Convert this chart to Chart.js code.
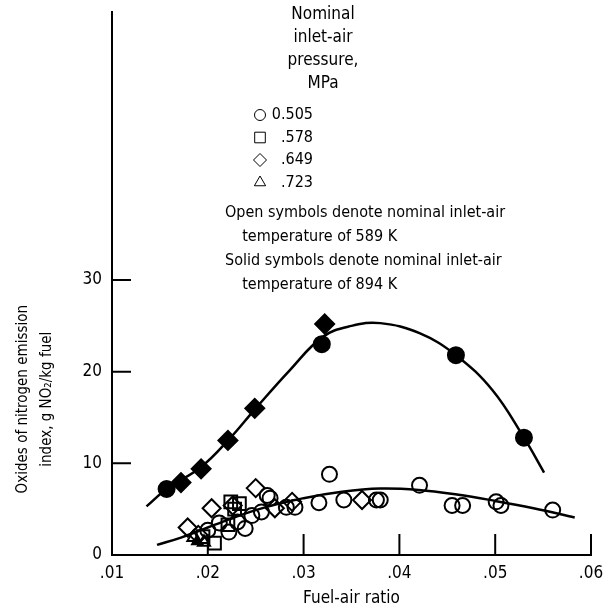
<!DOCTYPE html>
<html>
<head>
<meta charset="utf-8">
<script src="https://cdn.jsdelivr.net/npm/chart.js@4.4.0/dist/chart.umd.min.js"></script>
<style>
  html, body { margin: 0; padding: 0; background: #fff; }
</style>
</head>
<body>
<canvas id="noxChart" width="610" height="610"></canvas>
<script>
const FONT = '"Liberation Sans Narrow", "DejaVu Sans Condensed", "Arial Narrow", sans-serif';

// open symbols: inlet-air temperature 589 K
const openCircles = [
  [0.0200, 2.7], [0.0212, 3.5], [0.0222, 2.5], [0.0231, 3.6], [0.0239, 2.9],
  [0.0246, 4.3], [0.0256, 4.7], [0.0262, 6.5], [0.0265, 6.2], [0.0282, 5.2],
  [0.0291, 5.2], [0.0316, 5.7], [0.0327, 8.8], [0.0342, 6.0], [0.0376, 6.0],
  [0.0380, 6.0], [0.0421, 7.6], [0.0455, 5.4], [0.0466, 5.4], [0.0501, 5.8],
  [0.0506, 5.4], [0.0560, 4.9]
];
const openSquares = [[0.0207, 1.3], [0.0195, 2.0], [0.0224, 5.8], [0.0228, 5.0], [0.0233, 5.6], [0.0221, 3.3]];
const openDiamonds = [[0.0179, 3.0], [0.0190, 2.2], [0.0204, 5.1], [0.0226, 5.4], [0.0250, 7.3], [0.0270, 5.1], [0.0288, 5.8], [0.0361, 6.0]];
const openTriangles = [[0.0185, 1.9], [0.0196, 1.4]];

// solid symbols: inlet-air temperature 894 K
const solidCircles = [[0.0157, 7.2], [0.0319, 23.0], [0.0459, 21.8], [0.0530, 12.8]];
const solidDiamonds = [[0.0172, 7.9], [0.0193, 9.4], [0.0221, 12.5], [0.0249, 16.0], [0.0322, 25.2]];
const solidTriangles = [[0.0189, 1.5]];

// faired curves
const curve894 = [
  [0.0136, 5.3], [0.0157, 7.2], [0.0193, 9.6], [0.0222, 12.6], [0.0250, 16.0],
  [0.0285, 20.1], [0.0320, 23.8], [0.0350, 25.0], [0.0380, 25.3], [0.0421, 24.2],
  [0.0459, 21.8], [0.0497, 18.0], [0.0530, 12.8], [0.0551, 9.0]
];
const curve589 = [
  [0.0147, 1.1], [0.0172, 1.9], [0.0200, 3.0], [0.0250, 4.9], [0.0300, 6.2],
  [0.0340, 6.9], [0.0380, 7.25], [0.0420, 7.1], [0.0460, 6.6], [0.0500, 5.9],
  [0.0540, 5.1], [0.0583, 4.1]
];

const xTicks = [0.01, 0.02, 0.03, 0.04, 0.05, 0.06];
const xTickLabels = ['.01', '.02', '.03', '.04', '.05', '.06'];
const yTicks = [0, 10, 20, 30];

const legendTitle = ['Nominal', 'inlet-air', 'pressure,', 'MPa'];
const pressures = ['0.505', '.578', '.649', '.723'];
const pressureSymbols = ['circle', 'rect', 'rectRot', 'triangle'];
const notes = [
  'Open symbols denote nominal inlet-air',
  '  temperature of 589 K',
  'Solid symbols denote nominal inlet-air',
  '  temperature of 894 K'
];
const yTitle = ['Oxides of nitrogen emission', 'index, g NO\u2082/kg fuel'];

const toXY = arr => arr.map(p => ({ x: p[0], y: p[1] }));

function pts(data, style, radius, solid) {
  return {
    data: toXY(data),
    showLine: false,
    pointStyle: style,
    pointRadius: radius,
    pointHoverRadius: radius,
    pointBorderWidth: 2,
    pointBorderColor: '#000',
    pointBackgroundColor: solid ? '#000' : 'rgba(0,0,0,0)'
  };
}

function curve(data) {
  return {
    data: toXY(data),
    showLine: true,
    borderColor: '#000',
    borderWidth: 2.5,
    pointRadius: 0,
    tension: 0.4,
    fill: false
  };
}

const inwardTicks = {
  id: 'inwardTicks',
  afterDatasetsDraw(chart) {
    const { ctx, scales: { x, y } } = chart;
    ctx.save();
    ctx.strokeStyle = '#000';
    ctx.lineWidth = 2;
    ctx.beginPath();
    xTicks.slice(1).forEach(v => {
      const px = x.getPixelForValue(v);
      ctx.moveTo(px, y.bottom);
      ctx.lineTo(px, y.bottom - 21);
    });
    yTicks.slice(1).forEach(v => {
      const py = y.getPixelForValue(v);
      ctx.moveTo(x.left, py);
      ctx.lineTo(x.left + 19, py);
    });
    ctx.stroke();
    ctx.restore();
  }
};

const annotations = {
  id: 'annotations',
  afterDraw(chart) {
    const { ctx, scales: { y } } = chart;
    ctx.save();
    ctx.strokeStyle = '#000';
    ctx.textBaseline = 'middle';

    // legend heading
    ctx.fillStyle = '#000';
    ctx.font = '17px ' + FONT;
    ctx.textAlign = 'center';
    legendTitle.forEach((t, i) => ctx.fillText(t, 323, 15 + i * 23));

    // symbol rows (open symbols)
    ctx.font = '16px ' + FONT;
    pressures.forEach((p, i) => {
      const rowY = 115 + i * 22.5;
      ctx.fillStyle = 'rgba(0,0,0,0)';
      Chart.helpers.drawPoint(ctx, {
        pointStyle: pressureSymbols[i],
        radius: pressureSymbols[i] === 'rect' ? 7.5 : (pressureSymbols[i] === 'circle' ? 5.5 : 6.5),
        borderWidth: 2,
        rotation: 0
      }, 260, rowY);
      ctx.fillStyle = '#000';
      ctx.textAlign = 'right';
      ctx.fillText(p, 313, rowY);
    });

    // temperature notes
    ctx.textAlign = 'left';
    notes.forEach((t, i) => ctx.fillText(t, i % 2 ? 233 : 225, 213 + i * 24));

    // y-axis title, two rotated lines
    ctx.font = '15px ' + FONT;
    const cy = y.getPixelForValue(17);
    ctx.translate(35, cy);
    ctx.rotate(-Math.PI / 2);
    ctx.textAlign = 'center';
    ctx.fillText(yTitle[0], 0, -12);
    ctx.fillText(yTitle[1], 0, 12);
    ctx.restore();
  }
};

const ctx = document.getElementById('noxChart').getContext('2d');

const noxChart = new Chart(ctx, {
  type: 'scatter',
  data: {
    datasets: [
      pts(solidCircles, 'circle', 8, true),
      pts(solidDiamonds, 'rectRot', 9.5, true),
      pts(solidTriangles, 'triangle', 6, true),
      pts(openCircles, 'circle', 7.5, false),
      pts(openSquares, 'rect', 9, false),
      pts(openDiamonds, 'rectRot', 9, false),
      pts(openTriangles, 'triangle', 7, false),
      curve(curve894),
      curve(curve589)
    ]
  },
  options: {
    responsive: false,
    animation: false,
    layout: { padding: { left: 0, top: 0, right: 19, bottom: 0 } },
    plugins: {
      legend: { display: false },
      tooltip: { enabled: false }
    },
    scales: {
      x: {
        type: 'linear',
        min: 0.01,
        max: 0.06,
        afterFit: s => { s.height = 55; s.paddingLeft = 0; s.paddingRight = 0; },
        afterBuildTicks: s => { s.ticks = xTicks.map(v => ({ value: v })); },
        grid: { display: false, drawTicks: false, tickLength: 0 },
        border: { display: true, color: '#000', width: 2 },
        ticks: {
          color: '#000',
          padding: 8,
          font: { family: FONT, size: 17 },
          maxRotation: 0,
          callback: v => xTickLabels[xTicks.findIndex(t => Math.abs(t - v) < 1e-6)]
        },
        title: {
          display: true,
          text: 'Fuel-air ratio',
          color: '#000',
          font: { family: FONT, size: 17 },
          padding: { top: 0, bottom: 1 }
        }
      },
      y: {
        type: 'linear',
        min: 0,
        max: 59.3,
        afterFit: s => { s.width = 112; s.paddingTop = 0; s.paddingBottom = 0; },
        afterBuildTicks: s => { s.ticks = yTicks.map(v => ({ value: v })); },
        grid: { display: false, drawTicks: false, tickLength: 0 },
        border: { display: true, color: '#000', width: 2 },
        ticks: {
          color: '#000',
          padding: 10,
          font: { family: FONT, size: 17 }
        }
      }
    }
  },
  plugins: [inwardTicks, annotations]
});
</script>
</body>
</html>
